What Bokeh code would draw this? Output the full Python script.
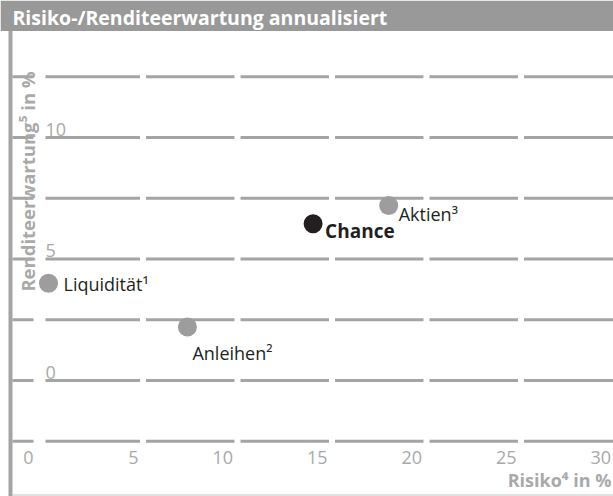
from bokeh.plotting import figure
from bokeh.models import Range1d
from bokeh.core.properties import value
from bokeh.embed import file_html
from bokeh.resources import INLINE

# ---- data ----
assets = ["Liquidität¹", "Anleihen²", "Chance", "Aktien³"]
risk = [0.0, 7.35, 14.0, 18.0]          # Risiko in %
ret = [4.0, 2.2, 6.45, 7.2]             # Renditeerwartung in %
x_ticks = [0, 5, 10, 15, 20, 25, 30]
y_ticks = [0, 5, 10]
grid_levels = [-2.5, 0, 2.5, 5, 7.5, 10, 12.5]
title_text = "Risiko-/Renditeerwartung annualisiert"
x_title = "Risiko⁴ in %"
y_title = "Renditeerwartung⁵ in %"

W, H = 613, 496
X0PX, XS = 48.0, 18.9     # pixel of x=0, px per unit
Y0PX, YS = 380.0, 24.3    # pixel of y=0, px per unit


def X(px):
    return (px - X0PX) / XS


def Y(py):
    return (Y0PX - py) / YS


FONT = value("Open Sans")
GRAY = "#9d9d9d"
LIGHT = "#a9a9a9"
DARK = "#231f20"

p = figure(width=W, height=H, output_backend="svg", toolbar_location=None,
           x_range=Range1d(X(0), X(W)), y_range=Range1d(Y(H), Y(0)),
           x_axis_type=None, y_axis_type=None, min_border=0,
           outline_line_color=None, background_fill_color="white",
           border_fill_color="white")
p.grid.visible = False

# title bar
p.quad(left=[X(0)], right=[X(W)], top=[Y(0)], bottom=[Y(30.5)],
       fill_color="#999999", line_color=None)
p.text(x=[X(12)], y=[Y(17)], text=[title_text], text_font=FONT,
       text_font_size="19.5px", text_font_style="bold", text_color="white",
       text_baseline="middle", text_align="left")

# left bar and bottom line
p.quad(left=[X(8)], right=[X(12)], top=[Y(30.5)], bottom=[Y(H)],
       fill_color="#a3a3a3", line_color=None)
p.segment(x0=[X(12)], x1=[X(W)], y0=[Y(494.5)], y1=[Y(494.5)],
          line_color="#c4c4c4", line_width=1)

# dashed-style grid (segments with gaps at x ticks)
gap = 0.16
x0s, x1s, ys = [], [], []
for g in grid_levels:
    starts = [X(12), X(45)] + [t + gap for t in x_ticks[1:-1]]
    ends = [X(33)] + [t - gap for t in x_ticks[1:-1]] + [X(W)]
    for s, e in zip(starts, ends):
        x0s.append(s)
        x1s.append(e)
        ys.append(g)
p.segment(x0=x0s, x1=x1s, y0=ys, y1=ys, line_color="#a4a4a4", line_width=3)

# y tick labels (inside, above grid lines)
p.text(x=[X(45)] * len(y_ticks), y=y_ticks, text=[str(v) for v in y_ticks],
       text_font=FONT, text_font_size="18px", text_color=LIGHT,
       text_align="left", text_baseline="bottom", y_offset=-2)

# x tick labels
xl = [X(33)] + [t - 0.24 for t in x_ticks[1:]]
p.text(x=xl, y=[Y(457)] * len(x_ticks), text=[str(v) for v in x_ticks],
       text_font=FONT, text_font_size="18px", text_color=LIGHT,
       text_align="right", text_baseline="middle")

# axis titles
p.text(x=[X(W - 2)], y=[Y(479)], text=[x_title], text_font=FONT,
       text_font_size="18px", text_font_style="bold", text_color=LIGHT,
       text_align="right", text_baseline="middle")
p.text(x=[X(27)], y=[Y(181)], text=[y_title], text_font=FONT,
       text_font_size="18.5px", text_font_style="bold", text_color=LIGHT,
       text_align="center", text_baseline="middle", angle=1.5708)

# points
colors = [GRAY, GRAY, DARK, GRAY]
p.scatter(x=risk, y=ret, size=19, fill_color=colors, line_color=None)

# point labels
offs = [(15, 1), (5, 26), (12, 7), (10, 8)]
for i, name in enumerate(assets):
    p.text(x=[risk[i]], y=[ret[i]], text=[name], text_font=FONT,
           text_font_size="18px" if name != "Chance" else "19px",
           text_font_style="bold" if name == "Chance" else "normal",
           text_color=DARK, text_align="left", text_baseline="middle",
           x_offset=offs[i][0], y_offset=offs[i][1])

open("out.html", "w").write(file_html(p, INLINE))
